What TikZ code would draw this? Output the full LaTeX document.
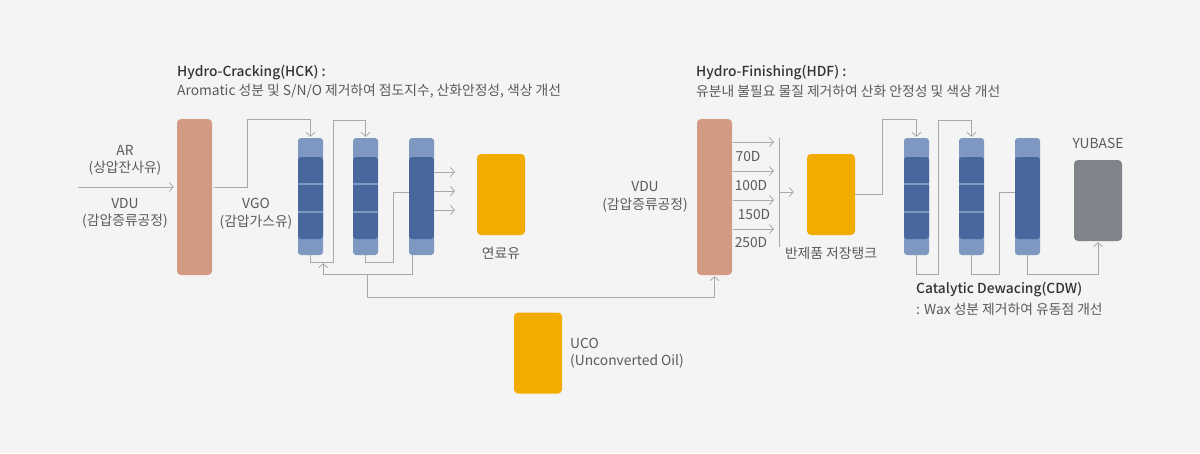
\documentclass[tikz,border=0pt]{standalone}
\usepackage{fontspec}
\setmainfont{Noto Sans CJK KR}[BoldFont={Noto Sans CJK KR Medium}]
\usetikzlibrary{arrows.meta}
\definecolor{bgc}{HTML}{F4F4F4}
\definecolor{brownc}{HTML}{D29A82}
\definecolor{yellowc}{HTML}{F2AC00}
\definecolor{lightb}{HTML}{7F98C2}
\definecolor{darkb}{HTML}{48679D}
\definecolor{grayc}{HTML}{808389}
\definecolor{linec}{HTML}{A8A8A8}
\definecolor{textc}{HTML}{5A5A5A}
\definecolor{boldc}{HTML}{333333}
\begin{document}
\begin{tikzpicture}[x=1pt,y=-1pt,
  line/.style={draw=linec, line width=0.8pt},
  arr/.style={line, -{Straight Barb[length=4pt,width=9pt]}},
  column/.style={fill=brownc, rounded corners=4pt, minimum width=35pt, minimum height=156pt, inner sep=0pt},
  tank/.style={fill=yellowc, rounded corners=4pt, minimum width=48pt, minimum height=81pt, inner sep=0pt},
  product/.style={fill=grayc, rounded corners=4pt, minimum width=48pt, minimum height=81pt, inner sep=0pt},
  reactor/.style={fill=lightb, rounded corners=3pt, minimum width=25pt, minimum height=117pt, inner sep=0pt,
    path picture={\fill[darkb] ([yshift=-19pt]path picture bounding box.north west) rectangle ([yshift=16pt]path picture bounding box.south east);}},
  sepreactor/.style={reactor, path picture={
    \fill[darkb] ([yshift=-19pt]path picture bounding box.north west) rectangle ([yshift=16pt]path picture bounding box.south east);
    \draw[lightb, line width=1.6pt] ([yshift=-46pt]path picture bounding box.north west) -- ([yshift=-46pt]path picture bounding box.north east);
    \draw[lightb, line width=1.6pt] ([yshift=-74pt]path picture bounding box.north west) -- ([yshift=-74pt]path picture bounding box.north east);}},
  lbl/.style={text=textc, font=\fontsize{13.8}{17.5}\selectfont, align=center, inner sep=0pt},
  lblb/.style={text=boldc, font=\fontsize{13.8}{17.5}\selectfont\bfseries, inner sep=0pt, anchor=west},
  lbll/.style={text=textc, font=\fontsize{13.8}{17.5}\selectfont, inner sep=0pt, anchor=west}
]
\fill[bgc] (0,0) rectangle (1200,453);
\useasboundingbox (0,0) rectangle (1200,453);

% titles
\node[lblb] (t1a) at (177,73) {Hydro-Cracking(HCK) :};
\node[lbll] (t1b) at (177,91) {Aromatic 성분 및 S/N/O 제거하여 점도지수, 산화안정성, 색상 개선};
\node[lblb] (t2a) at (696,73) {Hydro-Finishing(HDF) :};
\node[lbll] (t2b) at (696,91) {유분내 불필요 물질 제거하여 산화 안정성 및 색상 개선};

% equipment
\node[column] (col1) at (194.5,197) {};
\node[column] (col2) at (714.5,197) {};
\node[sepreactor] (r1) at (310.5,196.5) {};
\node[sepreactor] (r2) at (365.5,196.5) {};
\node[reactor] (r3) at (421.5,196.5) {};
\node[sepreactor] (r4) at (916.5,196.5) {};
\node[sepreactor] (r5) at (971.5,196.5) {};
\node[reactor] (r6) at (1027.5,196.5) {};
\node[tank] (tank1) at (501,194.5) {};
\node[tank] (tank2) at (831,194.5) {};
\node[tank] (uco) at (538,353) {};
\node[product] (yb) at (1098,200.5) {};

% labels
\node[lbl] (lar) at (125,160.5) {AR\\(상압잔사유)};
\node[lbl] (lvdu1) at (125,213.5) {VDU\\(감압증류공정)};
\node[lbl] (lvgo) at (256,213.5) {VGO\\(감압가스유)};
\node[lbl] (lfuel) at (501,253) {연료유};
\node[lbl] (lvdu2) at (645,197) {VDU\\(감압증류공정)};
\node[lbl] (l70) at (748,157) {70D};
\node[lbl] (l100) at (751,186) {100D};
\node[lbl] (l150) at (754,215) {150D};
\node[lbl] (l250) at (751,243) {250D};
\node[lbl] (ltank) at (831,253) {반제품 저장탱크};
\node[lbl] (lyb) at (1098,143) {YUBASE};
\node[lbll, align=left] (luco) at (570,353) {UCO\\(Unconverted Oil)};
\node[lblb] (lcdw) at (916,290) {Catalytic Dewacing(CDW)};
\node[lbll] (lcdw2) at (916,309) {: Wax 성분 제거하여 유동점 개선};

% helper coordinates
\coordinate (arin) at (78,187);
\coordinate (split) at (367,274);
\coordinate (bar1) at (779,138);
\coordinate (bar2) at (779,247);
\coordinate (barmid) at (779,192);

% connectors HCK
\draw[arr, shorten >=3pt] (arin) -- (arin -| col1.west);
\draw[arr] ([xshift=2pt]col1.east |- arin) -- ++(33,0) |- ([yshift=18pt]r1.north) -- ([yshift=1pt]r1.north);
\draw[arr] (r1.south) -- ++(0,7) -| (333,120) -| ([yshift=1pt]r2.north);
\draw[line] (r2.south) -- ++(0,7) -| (393,192) -- (r3.west |- barmid);
\draw[arr] ([xshift=-9.5pt]r3.south) -- ++(0,19) -| ([yshift=-8pt]r1.south east);
\draw[arr] (split) -- (367,297) -| ([yshift=-1pt]col2.south);
\foreach \yy in {172,191,210}{
  \draw[arr] (r3.east |- 0,\yy) -- (455,\yy);
}

% connectors HDF
\foreach \yy in {142,171,200,229}{
  \draw[arr] ([xshift=1pt]col2.east |- 0,\yy) -- (774,\yy);
}
\draw[line] (bar1) -- (bar2);
\draw[arr] (barmid) -- ([xshift=-13pt]tank2.west |- barmid);
\draw[arr] (tank2.east) -- (882,194.5) |- ([yshift=18pt]r4.north) -- ([yshift=1pt]r4.north);
\draw[arr] (r4.south) -- ++(0,19) -| (938,120) -| ([yshift=1pt]r5.north);
\draw[line] (r5.south) -- ++(0,19) -| (999,192) -- (r6.west |- barmid);
\draw[arr] (r6.south) -- ++(0,19) -| ([yshift=-1pt]yb.south);
\end{tikzpicture}
\end{document}
